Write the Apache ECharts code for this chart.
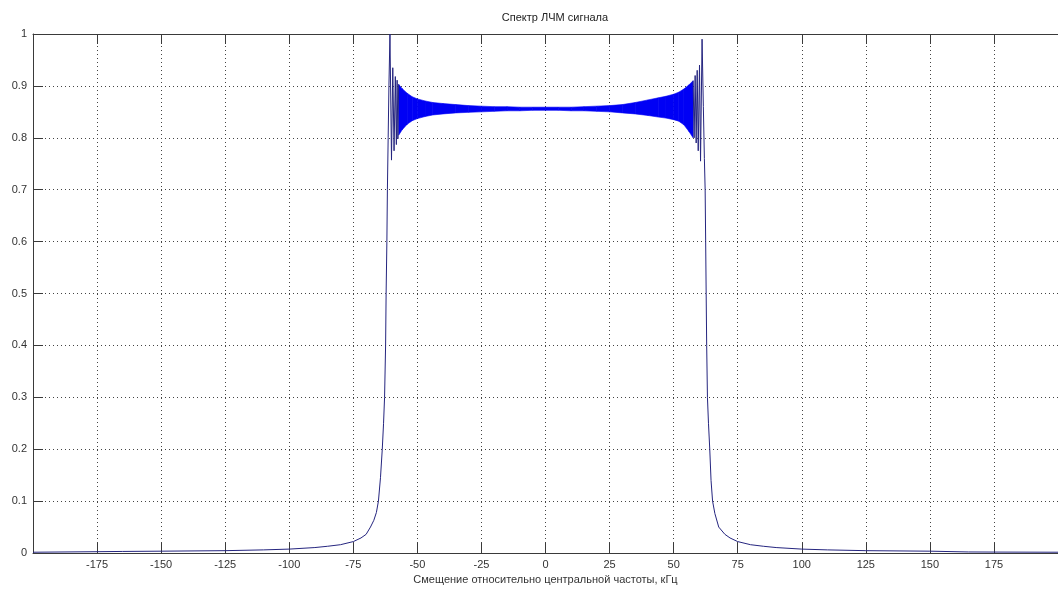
<!DOCTYPE html>
<html>
<head>
<meta charset="utf-8">
<title>Спектр ЛЧМ сигнала</title>
<script src="https://cdn.jsdelivr.net/npm/echarts@6/dist/echarts.min.js"></script>
<style>
    html, body { margin: 0; padding: 0; background: #fff; }
    #chart { width: 1058px; height: 591px; }
</style>
</head>
<body>
<div id="chart"></div>
<script>
// spectrum outline: tails, roll-off and the edge ripples (null = gap over the dense band)
var curveX = [-200, -175, -165, -150, -125, -110, -100, -90, -85, -80, -75, -72, -70, -68.3, -67, -66, -65.2, -64.4, -63.7, -63.2, -62.8, -62.4, -62.2, -61.9, -61.7, -61.4, -61.1, -60.7, -60.1, -59.6, -59.1, -58.6, -58.2, -57.9, -57.6, -57.3,
    null,
    57.6, 58.0, 58.4, 58.8, 59.2, 59.6, 60.1, 60.5, 61.1, 61.6, 62.0, 62.3, 62.5, 62.7, 62.9, 63.2, 63.6, 64.1, 64.6, 65.2, 66.1, 67.6, 70, 72, 75, 80, 85, 90, 100, 110, 125, 150, 165, 175, 200];
var curveY = [0.0015, 0.0025, 0.003, 0.0035, 0.0045, 0.006, 0.0075, 0.0105, 0.013, 0.016, 0.022, 0.029, 0.036, 0.05, 0.063, 0.078, 0.1, 0.145, 0.2, 0.25, 0.3, 0.4, 0.5, 0.6, 0.7, 0.8, 0.9, 1.0, 0.757, 0.935, 0.775, 0.918, 0.787, 0.911, 0.798, 0.903,
    null,
    0.91, 0.80, 0.92, 0.79, 0.93, 0.775, 0.94, 0.755, 0.99, 0.86, 0.76, 0.7, 0.6, 0.5, 0.4, 0.3, 0.25, 0.2, 0.14, 0.1, 0.076, 0.05, 0.036, 0.029, 0.022, 0.016, 0.013, 0.0105, 0.0075, 0.006, 0.0045, 0.0035, 0.002, 0.0018, 0.0015];

// dense oscillation in the passband, read as upper / lower envelope
var bandX = [-57.3, -56, -54, -52, -50, -47, -44, -40, -35, -30, -25, -20, -15, -10, -5, 0, 5, 10, 15, 20, 25, 30, 35, 40, 44, 47, 50, 52, 54, 56, 57.6];
var bandUpper = [0.903, 0.895, 0.886, 0.879, 0.875, 0.871, 0.868, 0.866, 0.864, 0.862, 0.861, 0.860, 0.860, 0.859, 0.859, 0.859, 0.859, 0.859, 0.860, 0.861, 0.862, 0.864, 0.868, 0.873, 0.877, 0.880, 0.884, 0.888, 0.894, 0.902, 0.910];
var bandLower = [0.805, 0.815, 0.826, 0.833, 0.837, 0.841, 0.844, 0.846, 0.848, 0.849, 0.850, 0.851, 0.852, 0.852, 0.853, 0.853, 0.853, 0.852, 0.852, 0.851, 0.850, 0.848, 0.846, 0.843, 0.840, 0.838, 0.835, 0.832, 0.825, 0.812, 0.800];

var xTickMin = -200, xTickMax = 200, xTickStep = 25;
var yTickMin = 0, yTickMax = 1, yTickStep = 0.1;

var titleText = 'Спектр ЛЧМ сигнала';
var xName = 'Смещение относительно центральной частоты, кГц';

var chartDom = document.getElementById('chart');
var myChart = echarts.init(chartDom, null, {renderer: 'canvas'});

var curveData = curveX.map(function (x, i) {
    return x === null ? '-' : [x, curveY[i]];
});
var bandData = bandX.map(function (x, i) {
    return [x, bandLower[i], bandUpper[i]];
});

//fill between envelopes, one quad per step
function renderBand(params, api) {
    var i = params.dataIndex;
    if (i >= bandX.length - 1) return;
    var pts = [
        api.coord([bandX[i], bandUpper[i]]),
        api.coord([bandX[i + 1], bandUpper[i + 1]]),
        api.coord([bandX[i + 1], bandLower[i + 1]]),
        api.coord([bandX[i], bandLower[i]])
    ];
    return {
        type: 'polygon',
        shape: {points: pts},
        style: {fill: '#0000f5', stroke: '#0000f5', lineWidth: 0.6}
    };
}

var axisFont = {
    color: '#333',
    fontSize: 11,
    fontFamily: 'Liberation Sans, Arial, sans-serif'
};
var axisLineStyle = {color: '#3a3a3a', width: 1};
var gridStyle = {color: '#444', width: 1, type: [1, 3]};

var option = {
    animation: false,
    backgroundColor: '#fff',
    title: {
        text: titleText,
        left: 550,
        top: 7,
        textAlign: 'center',
        textStyle: {
            color: '#222',
            fontSize: 11,
            fontWeight: 'normal',
            fontFamily: 'Liberation Sans, Arial, sans-serif'
        }
    },
    grid: {
        left: 33,
        top: 34,
        width: 1035,
        height: 519,
        containLabel: false
    },
    xAxis: [
        {
            type: 'value',
            min: xTickMin,
            max: xTickMax,
            interval: xTickStep,
            position: 'bottom',
            name: xName,
            nameLocation: 'middle',
            nameGap: 21,
            nameTextStyle: axisFont,
            axisLine: {show: true, onZero: false, lineStyle: axisLineStyle},
            axisTick: {show: true, inside: true, length: 10, lineStyle: axisLineStyle},
            axisLabel: {
                show: true,
                margin: 6,
                showMinLabel: false,
                showMaxLabel: false,
                color: axisFont.color,
                fontSize: axisFont.fontSize,
                fontFamily: axisFont.fontFamily
            },
            splitLine: {show: true, lineStyle: gridStyle}
        },
        {
            type: 'value',
            min: xTickMin,
            max: xTickMax,
            interval: xTickStep,
            position: 'top',
            axisLine: {show: true, onZero: false, lineStyle: axisLineStyle},
            axisTick: {show: true, inside: true, length: 10, lineStyle: axisLineStyle},
            axisLabel: {show: false},
            splitLine: {show: false}
        }
    ],
    yAxis: {
        type: 'value',
        min: yTickMin,
        max: yTickMax,
        interval: yTickStep,
        axisLine: {show: true, onZero: false, lineStyle: axisLineStyle},
        axisTick: {show: true, inside: true, length: 10, lineStyle: axisLineStyle},
        axisLabel: {
            margin: 6,
            color: axisFont.color,
            fontSize: axisFont.fontSize,
            fontFamily: axisFont.fontFamily,
            formatter: function (v) {
                return String(Math.round(v * 10) / 10);
            }
        },
        splitLine: {show: true, lineStyle: gridStyle}
    },
    series: [
        {
            name: 'band',
            type: 'custom',
            xAxisIndex: 0,
            renderItem: renderBand,
            data: bandData,
            encode: {x: 0, y: [1, 2]},
            silent: true,
            z: 2
        },
        {
            name: 'spectrum',
            type: 'line',
            xAxisIndex: 0,
            data: curveData,
            symbol: 'none',
            connectNulls: false,
            lineStyle: {color: '#25257f', width: 1},
            z: 3
        }
    ]
};

option && myChart.setOption(option);
</script>
</body>
</html>
